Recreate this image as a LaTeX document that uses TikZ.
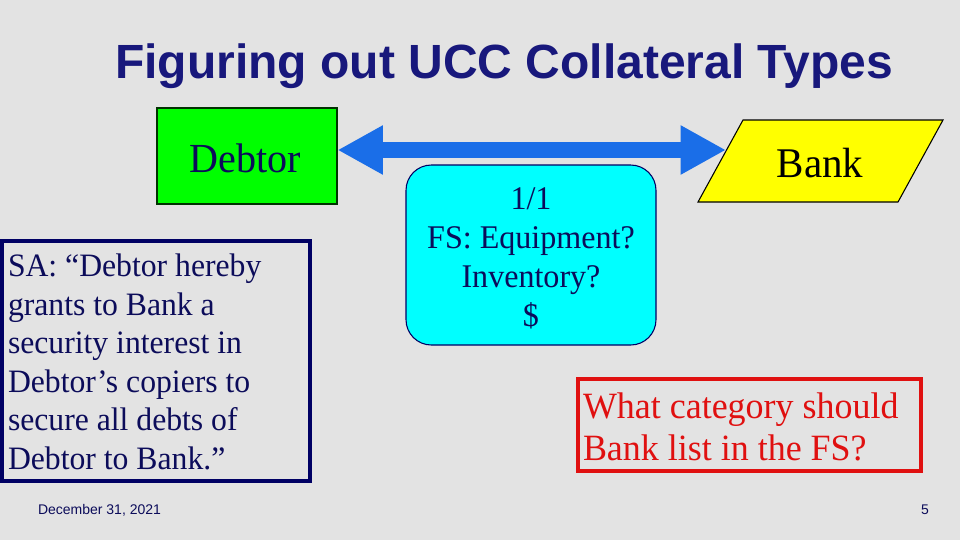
\documentclass[tikz,border=0pt]{standalone}
\usepackage{fontspec}
\setmainfont[FakeStretch=0.97]{Liberation Serif}
\newfontfamily\arialfont{Liberation Sans}
\usetikzlibrary{arrows.meta}
\definecolor{bg}{RGB}{227,227,227}
\definecolor{titleblue}{RGB}{24,24,124}
\definecolor{navy}{RGB}{12,12,90}
\definecolor{boxnavy}{RGB}{0,0,100}
\definecolor{arrowblue}{RGB}{26,110,232}
\definecolor{redbox}{RGB}{224,16,16}
\definecolor{pgreen}{RGB}{0,255,0}
\definecolor{pyellow}{RGB}{255,255,0}
\definecolor{pcyan}{RGB}{0,255,255}
\tikzset{
  plaintext/.style={inner sep=0pt, outer sep=0pt},
  bigarrow/.style={draw=arrowblue, line width=12pt, {Triangle[length=34pt,width=34.5pt]}-{Triangle[length=34pt,width=34.5pt]}},
}
\begin{document}
\begin{tikzpicture}[x=0.75pt,y=-0.75pt]
\fill[bg] (0,0) rectangle (960,540);
\useasboundingbox (0,0) rectangle (960,540);
% title
\node[plaintext, text=titleblue, font=\arialfont\bfseries\fontsize{36}{40}\selectfont] (title) at (504,66) {Figuring out UCC Collateral Types};
% debtor box
\node[draw=black!80!green, fill=pgreen, line width=0.8pt, minimum width=135pt, minimum height=72pt, inner sep=0pt] (debtorbox) at (247,156) {};
\node[plaintext, text=navy, font=\fontsize{31}{36}\selectfont] (debtor) at (245,158) {Debtor};
% bank parallelogram
\draw[fill=pyellow, draw=black, line width=0.8pt] (743,120) -- (943,120) -- (898,202) -- (698,202) -- cycle;
\node[plaintext, text=black, font=\fontsize{31.7}{34}\selectfont] (bank) at (820,163) {Bank};
\coordinate (bankedge) at (726,150);
% arrow
\draw[bigarrow] (debtorbox.east |- bankedge) -- (bankedge);
% cyan box
\node[draw=boxnavy, fill=pcyan, line width=0.8pt, rounded corners=19pt, minimum width=187.5pt, minimum height=135pt, inner sep=0pt] (fsbox) at (531,255) {};
\node[plaintext, text=navy, align=center, font=\fontsize{24.8}{29.25}\selectfont] (fs) at (531,258) {1/1\\FS: Equipment?\\Inventory?\\\$};
% SA box
\draw[draw=boxnavy, line width=2.6pt] (2,241) rectangle (310,481);
\node[plaintext, text=navy, align=left, anchor=west, font=\fontsize{24.5}{28.9}\selectfont] (sa) at (8,362) {SA: “Debtor hereby\\grants to Bank a\\security interest in\\Debtor’s copiers to\\secure all debts of\\Debtor to Bank.”};
% red box
\draw[draw=redbox, line width=2.4pt] (578,379) rectangle (921,471);
\node[plaintext, text=redbox, align=left, anchor=west, font=\fontsize{27.8}{31.5}\selectfont] (q) at (583,427) {What category should\\Bank list in the FS?};
% footer
\node[plaintext, text=navy, anchor=west, font=\arialfont\fontsize{10.5}{12}\selectfont] (date) at (38,510) {December 31, 2021};
\node[plaintext, text=navy, font=\arialfont\fontsize{10.5}{12}\selectfont] (page) at (925,510) {5};
\end{tikzpicture}
\end{document}
